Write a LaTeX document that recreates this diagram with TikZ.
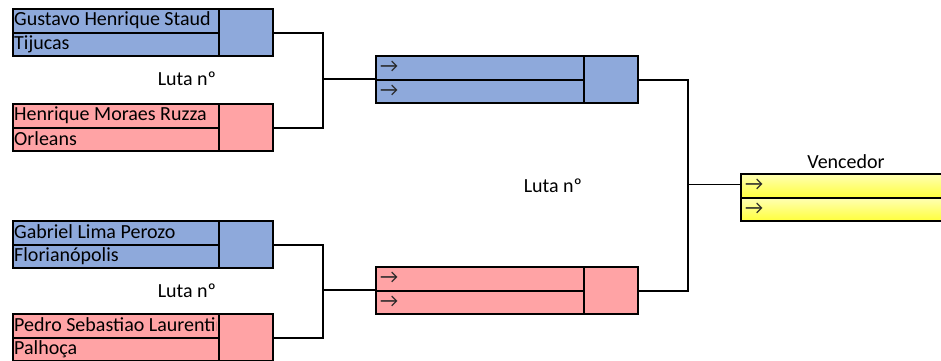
\documentclass[tikz,border=0pt]{standalone}
\usepackage{fontspec}
\setmainfont{Carlito}
\newfontfamily\arrfont{Carlito}
\definecolor{cblue}{HTML}{8EA9DB}
\definecolor{cpink}{HTML}{FFA3A5}
\definecolor{cyel}{HTML}{FFFF40}
\definecolor{cyellt}{HTML}{FFFFB8}
\begin{document}
\begin{tikzpicture}[x=1pt,y=-1pt,
  cell/.style={draw=black, line width=2pt, inner sep=0pt, anchor=north west, minimum height=47pt},
  lcell/.style={cell, minimum width=260pt},
  rcell/.style={cell, minimum width=262pt},
  divl/.style={line width=2pt},
  conn/.style={line width=2pt},
  txt/.style={font=\fontsize{20}{22}\selectfont, anchor=west, inner sep=0pt, text=black},
  arr/.style={font=\arrfont\fontsize{20}{22}\selectfont, anchor=west, inner sep=0pt, text=black!85},
  lbl/.style={font=\fontsize{20}{22}\selectfont, inner sep=0pt, text=black}]
\useasboundingbox (0,0) rectangle (941,360);
\fill[white] (0,0) rectangle (941,360);

% first round boxes
\node[lcell, fill=cblue] (b1) at (12,8) {};
\node[lcell, fill=cpink] (b2) at (12,103) {};
\node[lcell, fill=cblue] (b3) at (12,220) {};
\node[lcell, fill=cpink] (b4) at (12,313) {};
\foreach \b in {b1,b2,b3,b4}{
  \draw[divl] ([xshift=207pt]\b.north west) -- ([xshift=207pt]\b.south west);
  \draw[divl] (\b.west) -- ([xshift=207pt]\b.west);
}
\node[txt] (n1) at (14,20) {Gustavo Henrique Staud};
\node[txt] (c1) at (14,44) {Tijucas};
\node[txt] (n2) at (14,115) {Henrique Moraes Ruzza};
\node[txt] (c2) at (14,139) {Orleans};
\node[txt] (n3) at (14,232) {Gabriel Lima Perozo};
\node[txt] (c3) at (14,256) {Florianópolis};
\begin{scope}
  \clip (13,314) rectangle (216.5,336);
  \node[txt] (n4) at (14,325) {Pedro Sebastiao Laurentino};
\end{scope}
\node[txt] (c4) at (14,349) {Palhoça};

\node[lbl] (l1) at (187,79) {Luta nº};
\node[lbl] (l2) at (187,291) {Luta nº};
\node[lbl] (l3) at (553,186) {Luta nº};

% second round
\node[rcell, fill=cblue] (r1) at (375,55) {};
\node[rcell, fill=cpink] (r2) at (375,266) {};
\foreach \b in {r1,r2}{
  \draw[divl] ([xshift=209pt]\b.north west) -- ([xshift=209pt]\b.south west);
  \draw[divl] (\b.west) -- ([xshift=209pt]\b.west);
}
\node[arr] (a1) at (380,67) {→};
\node[arr] (a2) at (380,91) {→};
\node[arr] (a3) at (380,278) {→};
\node[arr] (a4) at (380,302) {→};

% final
\shade[top color=cyellt, bottom color=cyel] (740,173) rectangle (970,197);
\shade[top color=cyellt, bottom color=cyel] (740,197) rectangle (970,220);
\node[cell, minimum width=230pt] (f) at (740,173) {};
\draw[divl] (f.west) -- (f.east);
\node[arr] (a5) at (745,185) {→};
\node[arr] (a6) at (745,209) {→};
\node[lbl] (v) at (846,162) {Vencedor};

% connectors
\coordinate (m1) at (323,78.5);
\coordinate (m2) at (323,289.5);
\coordinate (m3) at (688,184);
\draw[conn] (b1.east) -| (m1) |- (b2.east);
\draw[conn] (m1) -- (m1 -| r1.west);
\draw[conn] (b3.east) -| (m2) |- (b4.east);
\draw[conn] (m2) -- (m2 -| r2.west);
\draw[conn] (r1.east) -| (m3) |- (r2.east);
\draw[line width=1pt] (m3) -- (m3 -| f.west);
\end{tikzpicture}
\end{document}
